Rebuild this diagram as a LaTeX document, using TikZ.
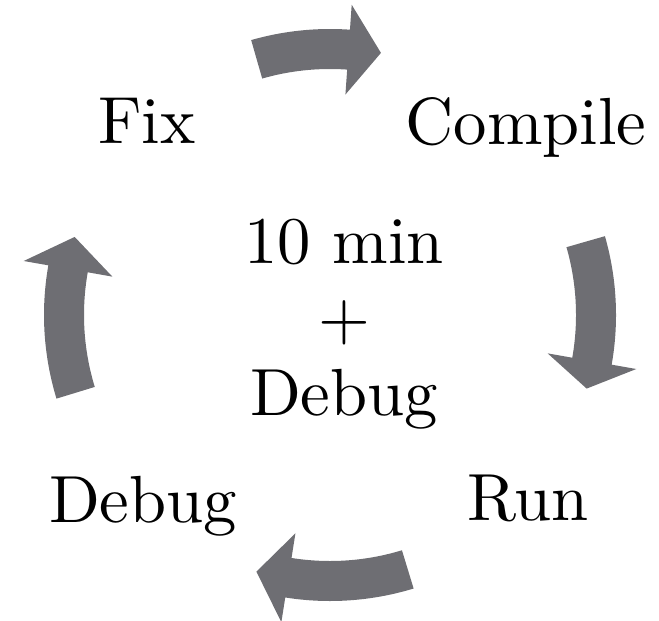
\documentclass[tikz,border=0pt]{standalone}
\usepackage{fontspec}
\setmainfont{lmroman10-regular.otf}

\definecolor{arrowgray}{RGB}{110,110,115}

\tikzset{every picture/.style={line width=0.75pt}}
\tikzset{
  lbl/.style={font=\fontsize{50}{58}\selectfont, anchor=base, inner sep=0pt},
  midlbl/.style={font=\fontsize{50}{57}\selectfont, align=center, inner sep=0pt}
}

% curved block arrow round the middle: tail angle, head angle, tip angle
\newcommand{\cyclearrow}[3]{%
  \fill[arrowgray] (#1:286) arc[start angle=#1, end angle=#2, radius=286]
    -- (#2:311) -- (#3:267) -- (#2:221) -- (#2:246)
    arc[start angle=#2, end angle=#1, radius=246] -- cycle;}

\begin{document}
\begin{tikzpicture}[x=0.75pt,y=0.75pt,yscale=-1,xscale=1]
	\useasboundingbox (0,0) rectangle (659,620);

	%Shape: Arrows round the loop
	\begin{scope}[shift={(330,315)}]
	\cyclearrow{-106}{-86}{-79}
	\cyclearrow{-16}{10}{16}
	\cyclearrow{73}{99}{106}
	\cyclearrow{163}{190}{197}
	\end{scope}

	%Text nodes
	\node[lbl] (fix) at (147,144) {Fix};
	\node[lbl] (compile) at (526,145) {Compile};
	\node[lbl] (run) at (528,520) {Run};
	\node[lbl] (debug) at (143,522) {Debug};
	\node[midlbl] (loop) at (344,324) {10 min\\+\\Debug};
\end{tikzpicture}
\end{document}
